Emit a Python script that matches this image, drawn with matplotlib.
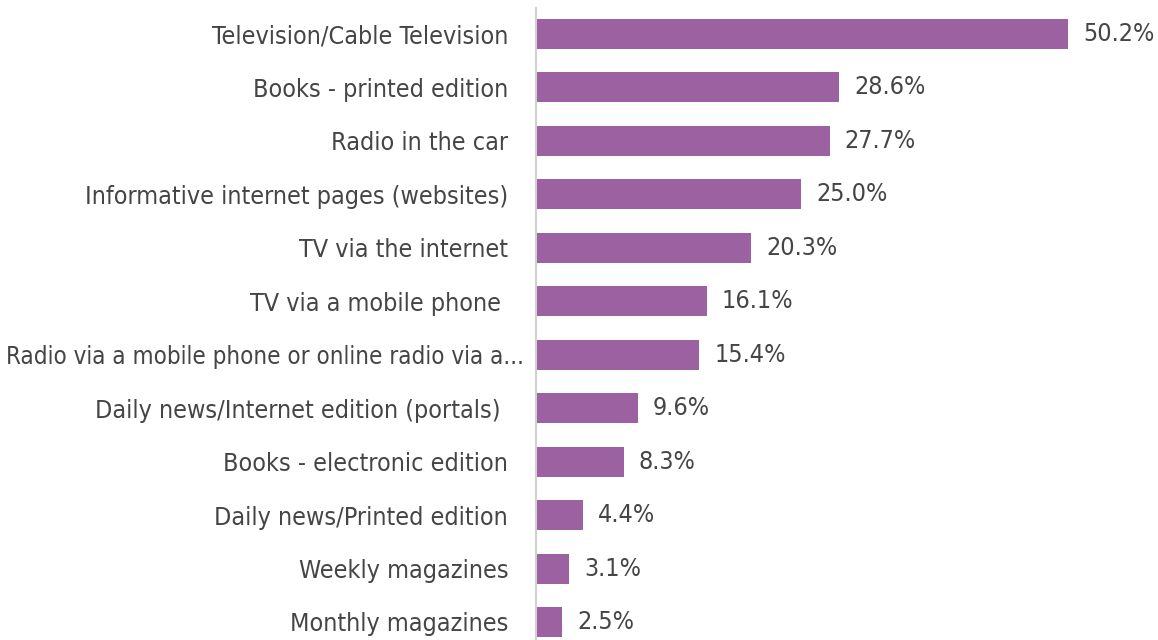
import matplotlib
matplotlib.use("Agg")
import matplotlib.pyplot as plt
from matplotlib.transforms import ScaledTranslation

categories = [
    "Television/Cable Television",
    "Books - printed edition",
    "Radio in the car",
    "Informative internet pages (websites)",
    "TV via the internet",
    "TV via a mobile phone ",
    "Radio via a mobile phone or online radio via a...",
    "Daily news/Internet edition (portals) ",
    "Books - electronic edition",
    "Daily news/Printed edition",
    "Weekly magazines",
    "Monthly magazines",
]
values = [50.2, 28.6, 27.7, 25.0, 20.3, 16.1, 15.4, 9.6, 8.3, 4.4, 3.1, 2.5]

plt.rcParams["font.family"] = ["DejaVu Sans"]
plt.rcParams["font.stretch"] = "condensed"

W, H = 1158, 640
fig = plt.figure(figsize=(W / 100, H / 100), dpi=100)
ax_left = 536 / W
ax_right = 1150 / W
ax = fig.add_axes([ax_left, 0, ax_right - ax_left, 1 - 8 / H])

n = len(categories)
ypos = list(range(n))
ax.barh(ypos, values, height=0.56, color="#9b61a1")
xmax = 50.2 * (1150 - 536) / (1068 - 536)
ax.set_xlim(0, xmax)
step = (622 - 34) / (n - 1)
top_val = -(34 - 8) / step
bot_val = (n - 1) + (640 - 622) / step
ax.set_ylim(bot_val, top_val)

ax.set_yticks(ypos)
ax.set_yticklabels(categories, fontsize=18, color="#454545", fontstretch="condensed")
ax.tick_params(axis="y", length=0, pad=20)
ax.set_xticks([])
for s in ["top", "right", "bottom"]:
    ax.spines[s].set_visible(False)
ax.spines["left"].set_color("#d0d0d0")
ax.spines["left"].set_linewidth(1.5)

# the truncated label sits closer to the axis in the reference
lbl = ax.get_yticklabels()[6]
lbl.set_fontsize(17.3)
lbl.set_transform(lbl.get_transform() + ScaledTranslation(16 / 100, 0, fig.dpi_scale_trans))

for y, v in zip(ypos, values):
    ax.annotate(f"{v:.1f}%", (v, y), xytext=(15, 0), textcoords="offset pixels",
                va="center", ha="left", fontsize=18, color="#454545",
                fontstretch="condensed")

fig.savefig("out.png", dpi=100)
